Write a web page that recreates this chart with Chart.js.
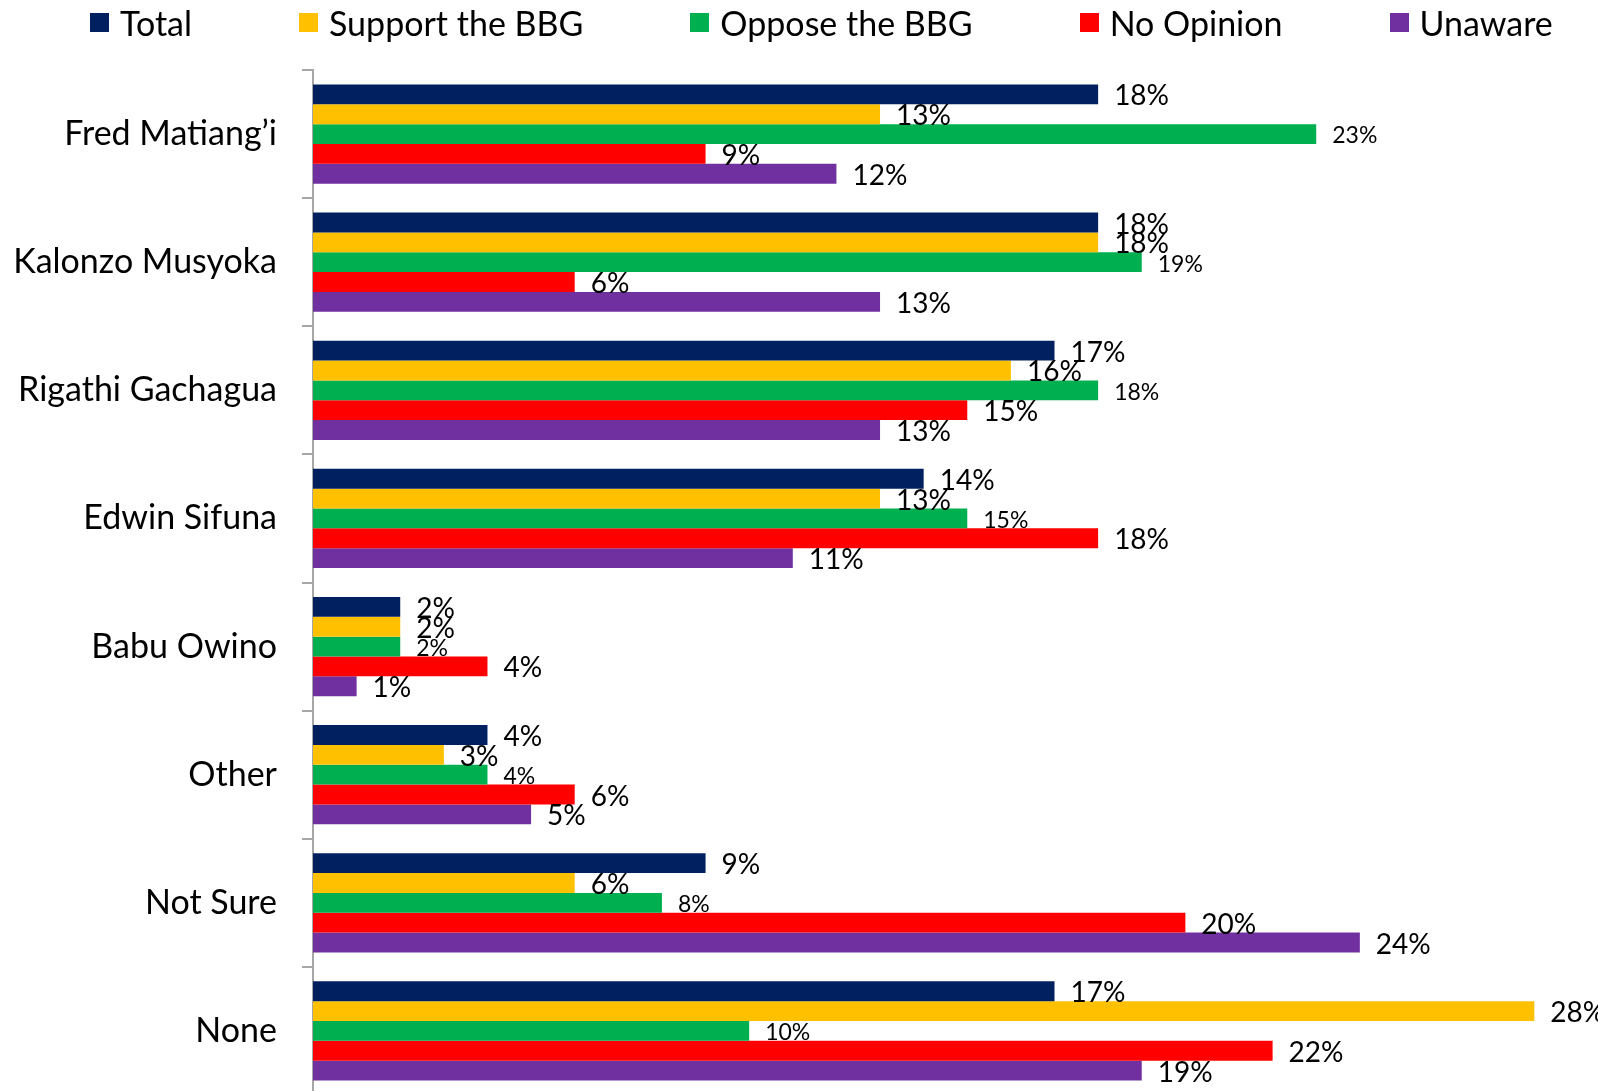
<!DOCTYPE html>
<html>
<head>
<meta charset="utf-8">
<title>BBG Leadership Preference</title>
<script src="https://cdn.jsdelivr.net/npm/chart.js"></script>
<style>
  html, body { margin: 0; padding: 0; background: #fff; overflow: hidden; }
  #wrap { position: relative; width: 1598px; height: 1095px; }
  #legend {
    position: absolute; top: 2px; left: 90px;
    display: flex; gap: 107px; align-items: center;
    font-family: Lato, sans-serif; font-size: 34px; color: #000;
  }
  #legend .item { display: flex; align-items: center; white-space: nowrap; }
  #legend .box { width: 19px; height: 19px; margin-right: 11px; }
</style>
</head>
<body>
<div id="wrap">
  <div id="legend"></div>
  <canvas id="barChart" width="1598" height="1095"></canvas>
</div>
<script>
  // Categorias y valores (%)
  const categories = ['Fred Matiang’i', 'Kalonzo Musyoka', 'Rigathi Gachagua', 'Edwin Sifuna', 'Babu Owino', 'Other', 'Not Sure', 'None'];
  const seriesNames = ['Total', 'Support the BBG', 'Oppose the BBG', 'No Opinion', 'Unaware'];
  const seriesColors = ['#002060', '#FFC000', '#00B050', '#FF0000', '#7030A0'];

  const totalValues = [18, 18, 17, 14, 2, 4, 9, 17];
  const supportValues = [13, 18, 16, 13, 2, 3, 6, 28];
  const opposeValues = [23, 19, 18, 15, 2, 4, 8, 10];
  const noOpinionValues = [9, 6, 15, 18, 4, 6, 20, 22];
  const unawareValues = [12, 13, 13, 11, 1, 5, 24, 19];

  const seriesValues = [totalValues, supportValues, opposeValues, noOpinionValues, unawareValues];

  // Leyenda en HTML
  const legendEl = document.getElementById('legend');
  seriesNames.forEach((name, i) => {
    legendEl.innerHTML += `<div class="item"><span class="box" style="background:${seriesColors[i]}"></span>${name}</div>`;
  });

  // Etiquetas de valor al final de cada barra
  const valueLabels = {
    id: 'valueLabels',
    afterDatasetsDraw(chart) {
      const ctx = chart.ctx;
      ctx.save();
      ctx.fillStyle = '#000';
      ctx.textBaseline = 'middle';
      ctx.textAlign = 'left';
      chart.data.datasets.forEach((ds, i) => {
        ctx.font = (i === 2 ? '23px' : '28px') + ' Lato, sans-serif';
        chart.getDatasetMeta(i).data.forEach((bar, j) => {
          ctx.fillText(ds.data[j] + '%', bar.x + 16, bar.y + 2);
        });
      });
      ctx.restore();
    }
  };

  const ctx = document.getElementById('barChart').getContext('2d');
  const barChart = new Chart(ctx, {
    type: 'bar',
    data: {
      labels: categories,
      datasets: seriesNames.map((name, i) => ({
        label: name,
        data: seriesValues[i],
        backgroundColor: seriesColors[i],
        borderWidth: 0,
        categoryPercentage: 0.775,
        barPercentage: 1.0
      }))
    },
    options: {
      indexAxis: 'y',
      responsive: false,
      animation: false,
      layout: { padding: { top: 70, right: 0, bottom: 0, left: 0 } },
      plugins: {
        legend: { display: false },
        tooltip: { enabled: false }
      },
      scales: {
        x: { display: false, min: 0, max: 29.46 },
        y: {
          // ancho fijo del eje y sin margen extra arriba/abajo
          afterFit: (scale) => {
            scale.width = 313;
            scale.paddingTop = 0;
            scale.paddingBottom = 0;
          },
          border: { display: true, color: '#A6A6A6', width: 2 },
          grid: { drawOnChartArea: false, drawTicks: true, tickLength: 11, color: '#A6A6A6', lineWidth: 2 },
          ticks: { color: '#000', padding: 25, font: { family: 'Lato', size: 34 } }
        }
      }
    },
    plugins: [valueLabels]
  });
</script>
</body>
</html>
